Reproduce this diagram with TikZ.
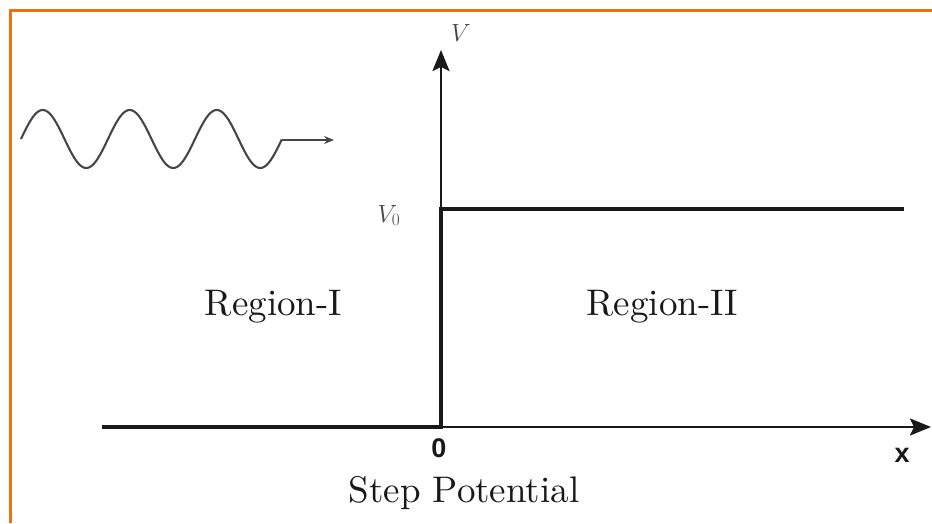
\documentclass[tikz,border=0pt]{standalone}
\usepackage{fontspec}
\newfontfamily\labfont{Liberation Sans}
\newfontfamily\lmten{lmroman10-regular.otf}
\usetikzlibrary{arrows.meta}
\definecolor{frameorange}{RGB}{234,112,22}
\definecolor{ink}{RGB}{25,25,25}
\definecolor{softink}{RGB}{70,70,70}
\tikzset{
  thickline/.style={line width=4.6pt, draw=ink, line join=miter},
  axisline/.style={line width=2.4pt, draw=ink, -{Stealth[length=21pt,width=17pt,inset=4pt]}},
  wave/.style={line width=2.1pt, draw=softink},
  regionlabel/.style={font=\lmten\fontsize{37}{40}\selectfont, text=ink, anchor=base, inner sep=0pt},
  axislabel/.style={font=\labfont\bfseries\fontsize{27}{30}\selectfont, text=ink, anchor=base, inner sep=0pt},
  mathlabel/.style={font=\fontsize{24}{27}\selectfont, text=softink, anchor=base, inner sep=0pt},
}
\begin{document}
\begin{tikzpicture}[x=1pt,y=-1pt]
  \useasboundingbox (0,0) rectangle (932,523);
  % frame
  \draw[frameorange, line width=3pt] (10,523) -- (10,10) -- (932,10);
  % coordinates
  \coordinate (xstart) at (102,427);
  \coordinate (origin) at (441,427);
  \coordinate (stepcorner) at (441,209);
  \coordinate (stepend) at (904,209);
  \coordinate (vtip) at (441,50);
  \coordinate (xtip) at (931,427);
  \coordinate (wavestart) at (21,139);
  \coordinate (waveend) at (282,140);
  \coordinate (wavetip) at (334,140);
  % axes
  \draw[axisline] (stepcorner) -- (vtip);
  \draw[axisline] (origin) -- (xtip);
  % potential
  \draw[thickline] (xstart) -- (origin) -- (stepcorner) -- (stepend);
  % wave
  \draw[wave] plot[domain=0:3, samples=200, smooth] ({21+87*\x}, {139-29*sin(360*\x)});
  \draw[line width=1.6pt, draw=softink, -{Stealth[length=10pt,width=8pt]}] (waveend) -- (wavetip);
  % labels
  \node[mathlabel] (vlab) at (461,41) {$V$};
  \node[mathlabel] (v0lab) at (389,222) {$V_0$};
  \node[regionlabel] (r1) at (273.5,315) {Region-I};
  \node[regionlabel] (r2) at (662.5,315) {Region-II};
  \node[regionlabel] (title) at (464,502) {Step Potential};
  \node[axislabel] (zero) at (439,457) {0};
  \node[axislabel] (xlab) at (902,462) {x};
\end{tikzpicture}
\end{document}
